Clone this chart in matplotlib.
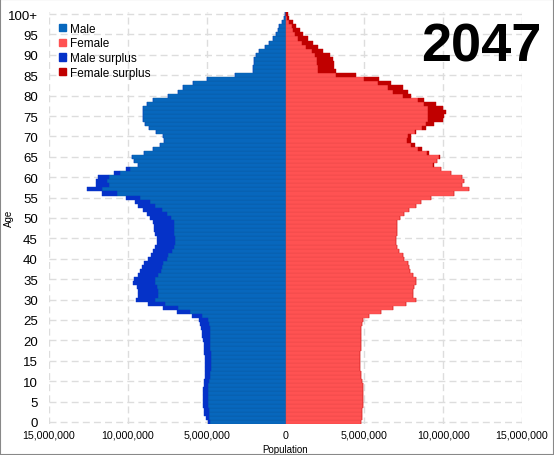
#Piramide de poblacion 2047

import numpy as np
import matplotlib
matplotlib.use("Agg")
import matplotlib.pyplot as plt
from matplotlib.patches import Patch, Rectangle
from matplotlib.ticker import FuncFormatter

plt.rcParams['font.family'] = ['Liberation Sans', 'DejaVu Sans']

#Datos (millones de personas), edades 0..100+
edades = np.arange(0, 101)
hombres = np.array([
    4.92, 5.07, 5.2, 5.2, 5.22, 5.25, 5.25, 5.25, 5.22, 5.17,
    5.15, 5.13, 5.12, 5.12, 5.12, 5.12, 5.13, 5.15, 5.18, 5.2,
    5.22, 5.27, 5.3, 5.33, 5.4, 5.5, 5.93, 6.9, 7.77, 8.7,
    9.5, 9.34, 9.34, 9.45, 9.66, 9.6, 9.34, 9.24, 9.13, 9.0,
    8.7, 8.5, 8.4, 8.3, 8.18, 8.18, 8.3, 8.35, 8.33, 8.4,
    8.6, 8.8, 9.03, 9.34, 9.56, 10.1, 11.67, 12.6, 12.0, 12.0,
    11.88, 10.9, 10.1, 9.35, 9.6, 9.75, 8.95, 8.4, 7.95, 7.7,
    7.75, 8.2, 8.65, 8.9, 9.03, 9.03, 9.03, 9.03, 8.8, 8.4,
    7.45, 6.8, 6.5, 5.87, 5.0, 3.2, 2.07, 2.07, 2.0, 2.0,
    1.9, 1.65, 1.33, 1.05, 0.8, 0.6, 0.5, 0.4, 0.25, 0.1,
    0.05])
mujeres = np.array([
    4.79, 4.85, 4.85, 4.88, 4.9, 4.94, 4.94, 4.94, 4.92, 4.9,
    4.85, 4.8, 4.76, 4.75, 4.75, 4.75, 4.75, 4.75, 4.76, 4.77,
    4.78, 4.78, 4.79, 4.8, 4.85, 4.94, 5.27, 6.05, 6.8, 7.64,
    8.27, 8.06, 8.06, 8.17, 8.27, 8.3, 8.06, 7.9, 7.85, 7.75,
    7.53, 7.43, 7.2, 7.1, 7.0, 7.0, 7.1, 7.1, 7.1, 7.1,
    7.26, 7.53, 7.85, 8.27, 8.6, 9.22, 10.7, 11.65, 11.2, 11.33,
    11.2, 10.5, 9.85, 9.4, 9.6, 9.78, 9.1, 8.65, 8.2, 7.95,
    7.95, 8.3, 8.9, 9.43, 9.96, 10.06, 10.17, 9.96, 9.54, 8.8,
    7.95, 7.74, 7.43, 6.69, 5.95, 4.47, 3.2, 3.1, 3.1, 3.0,
    2.8, 2.36, 2.05, 1.73, 1.41, 1.1, 0.89, 0.68, 0.47, 0.25,
    0.15])
hombres = hombres * 1e6
mujeres = mujeres * 1e6

ticksX = [-15e6, -10e6, -5e6, 0, 5e6, 10e6, 15e6]
ticksY = list(range(0, 101, 5))
etiquetasY = [str(t) for t in ticksY[:-1]] + ["100+"]
anio = "2047"

colorH = "#0767bd"
colorHs = "#0532c8"
colorM = "#ff5252"
colorMs = "#c00000"

fig = plt.figure(figsize=(5.54, 4.56), dpi=100)
ax = fig.add_axes([49/554, 1-425/456, (522-49)/554, (425-13)/456])

base = np.minimum(hombres, mujeres)
surH = hombres - base
surM = mujeres - base

ax.barh(edades, -base, height=1.0, color=colorH, edgecolor="#0a5aa3", linewidth=0.3, zorder=3)
ax.barh(edades, -surH, left=-base, height=1.0, color=colorHs, edgecolor=colorHs, linewidth=0.3, zorder=3)
ax.barh(edades, base, height=1.0, color=colorM, edgecolor="#e84848", linewidth=0.3, zorder=3)
ax.barh(edades, surM, left=base, height=1.0, color=colorMs, edgecolor=colorMs, linewidth=0.3, zorder=3)

ax.set_xlim(-15e6, 15e6)
ax.set_ylim(-0.5, 100.5)
ax.set_xticks(ticksX)
ax.xaxis.set_major_formatter(FuncFormatter(lambda v, p: "{:,.0f}".format(abs(v))))
ax.set_yticks(ticksY)
ax.set_yticklabels(etiquetasY)
ax.tick_params(axis="x", length=0, pad=4, labelsize=7.7)
ax.tick_params(axis="y", length=0, pad=8, labelsize=9.5)
for s in ax.spines.values():
    s.set_visible(False)
ax.grid(True, color="#dddddd", linestyle=(0, (5, 3)), linewidth=1.0, zorder=0)

ax.set_xlabel("Population", fontsize=7, labelpad=3)
fig.text(9/554, 1-218/456, "Age", fontsize=7, rotation=90, ha="center", va="center")

manijas = [Patch(color=colorH), Patch(color=colorM), Patch(color=colorHs), Patch(color=colorMs)]
ax.legend(manijas, ["Male", "Female", "Male surplus", "Female surplus"],
          loc="upper left", bbox_to_anchor=(0.012, 0.985), frameon=False,
          fontsize=8.5, handlelength=0.6, handleheight=0.6, handletextpad=0.3,
          labelspacing=0.22, borderaxespad=0)

fig.text(481/554, 1-48/456, anio, fontsize=39, fontweight="bold", ha="center", va="center")

fig.add_artist(Rectangle((0, 0), 1, 1, transform=fig.transFigure, fill=False,
                         edgecolor="#888888", linewidth=1.5))

plt.savefig("out.png", dpi=100)
